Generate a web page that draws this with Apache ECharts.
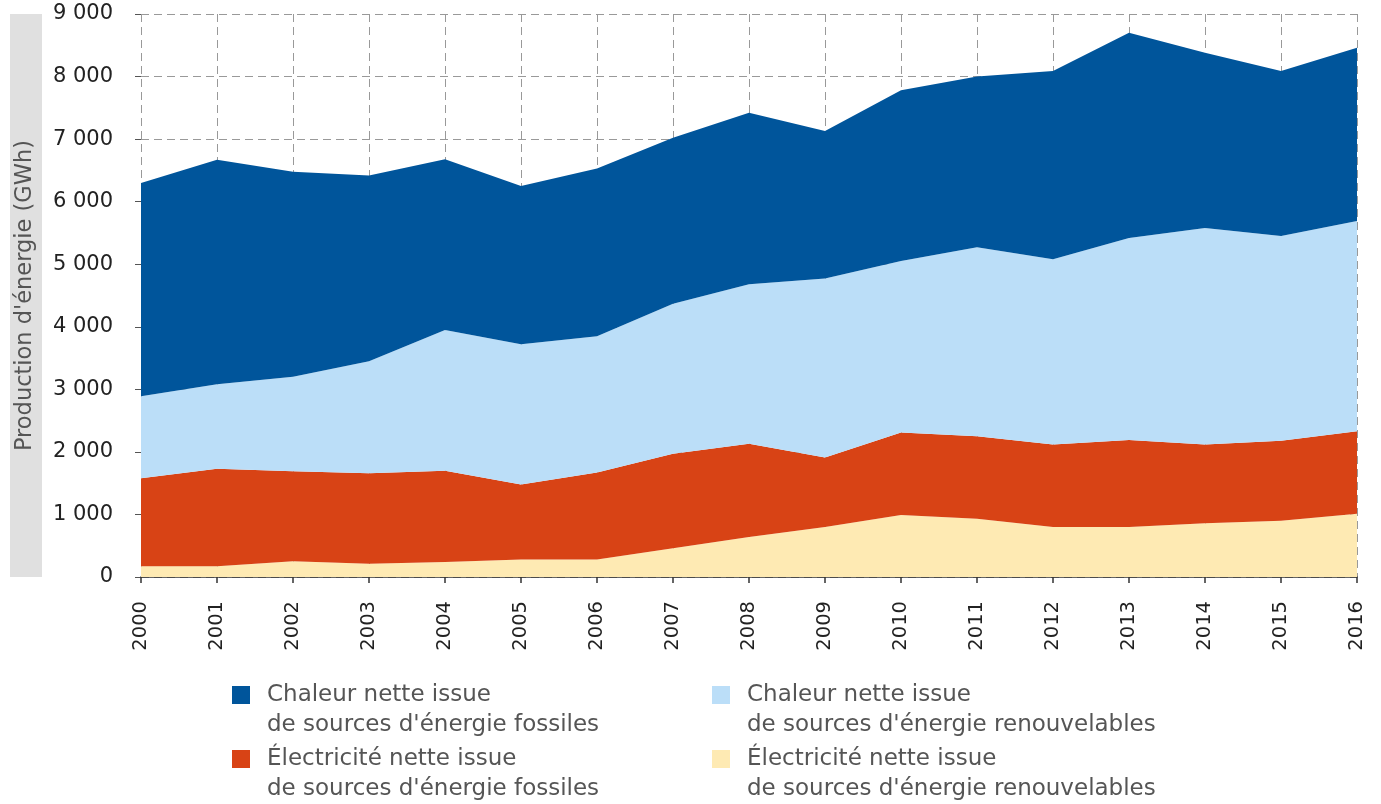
<!DOCTYPE html>
<html>
<head>
<meta charset="utf-8">
<script src="https://cdn.jsdelivr.net/npm/echarts@6/dist/echarts.min.js"></script>
<style>
html,body{margin:0;padding:0;background:#fff;}
#chart{width:1381px;height:804px;}
</style>
</head>
<body>
<div id="chart"></div>
<script>
const years = ['2000','2001','2002','2003','2004','2005','2006','2007','2008','2009','2010','2011','2012','2013','2014','2015','2016'];
const elecRenew  = [170,170,250,210,240,280,280,460,640,800,990,930,800,800,860,900,1010];
const elecFossil = [1410,1560,1440,1450,1460,1200,1390,1510,1490,1110,1320,1320,1320,1390,1260,1280,1320];
const heatRenew  = [1310,1350,1510,1790,2250,2240,2180,2400,2550,2860,2740,3020,2960,3230,3460,3270,3360];
const heatFossil = [3410,3590,3280,2970,2730,2530,2680,2650,2740,2360,2730,2730,3010,3280,2800,2640,2770];
const yTicks = {min: 0, max: 9000, interval: 1000};
const names = {
  heatFossil: 'Chaleur nette issue\nde sources d\'énergie fossiles',
  heatRenew: 'Chaleur nette issue\nde sources d\'énergie renouvelables',
  elecFossil: 'Électricité nette issue\nde sources d\'énergie fossiles',
  elecRenew: 'Électricité nette issue\nde sources d\'énergie renouvelables'
};
const colors = {heatFossil:'#00559b', heatRenew:'#bbdef8', elecFossil:'#d84315', elecRenew:'#feeab3'};
const FONT = 'DejaVu Sans';

function areaSeries(key, data) {
  return {
    name: names[key], type: 'line', stack: 'total', data: data,
    symbol: 'none', showSymbol: false,
    lineStyle: {width: 0, color: colors[key]},
    itemStyle: {color: colors[key]},
    areaStyle: {color: colors[key], opacity: 1},
    emphasis: {disabled: true}
  };
}
function legend(key, left, top) {
  return {
    data: [names[key]], left: left, top: top, padding: 0,
    icon: 'rect', itemWidth: 18, itemHeight: 18, selectedMode: false,
    formatter: n => '\n' + n,
    textStyle: {fontFamily: FONT, fontSize: 23, color: '#555', lineHeight: 30, padding: [0, 0, 0, 12]}
  };
}

const chart = echarts.init(document.getElementById('chart'), null, {renderer: 'canvas'});
chart.setOption({
  animation: false,
  backgroundColor: '#fff',
  grid: {left: 141, right: 24, top: 14, bottom: 227, containLabel: false},
  graphic: [{type: 'rect', left: 10, top: 14, shape: {width: 32, height: 563}, style: {fill: '#e0e0e0'}, z: -10}],
  legend: [
    legend('heatFossil', 232, 650),
    legend('heatRenew', 712, 650),
    legend('elecFossil', 232, 714),
    legend('elecRenew', 712, 714)
  ],
  xAxis: {
    type: 'category', data: years, boundaryGap: false,
    axisLine: {lineStyle: {color: '#333', width: 1.5}},
    axisTick: {show: true, length: 6, lineStyle: {color: '#333', width: 1.5}},
    axisLabel: {rotate: 90, margin: 24, fontFamily: FONT, fontSize: 19.5, color: '#222'},
    splitLine: {show: true, lineStyle: {color: '#999', type: [8, 5], width: 1}}
  },
  yAxis: {
    type: 'value', min: yTicks.min, max: yTicks.max, interval: yTicks.interval,
    name: 'Production d\'énergie (GWh)', nameLocation: 'middle', nameGap: 104, nameRotate: 90,
    nameTextStyle: {fontFamily: FONT, fontSize: 22.5, color: '#555'},
    axisLine: {show: false},
    axisTick: {show: true, length: 6, lineStyle: {color: '#555'}},
    axisLabel: {margin: 28, fontFamily: FONT, fontSize: 21, color: '#222',
      formatter: v => String(v).replace(/\B(?=(\d{3})+(?!\d))/g, ' ')},
    splitLine: {show: true, lineStyle: {color: '#999', type: [8, 5], width: 1}}
  },
  series: [
    areaSeries('elecRenew', elecRenew),
    areaSeries('elecFossil', elecFossil),
    areaSeries('heatRenew', heatRenew),
    areaSeries('heatFossil', heatFossil)
  ]
});
</script>
</body>
</html>
